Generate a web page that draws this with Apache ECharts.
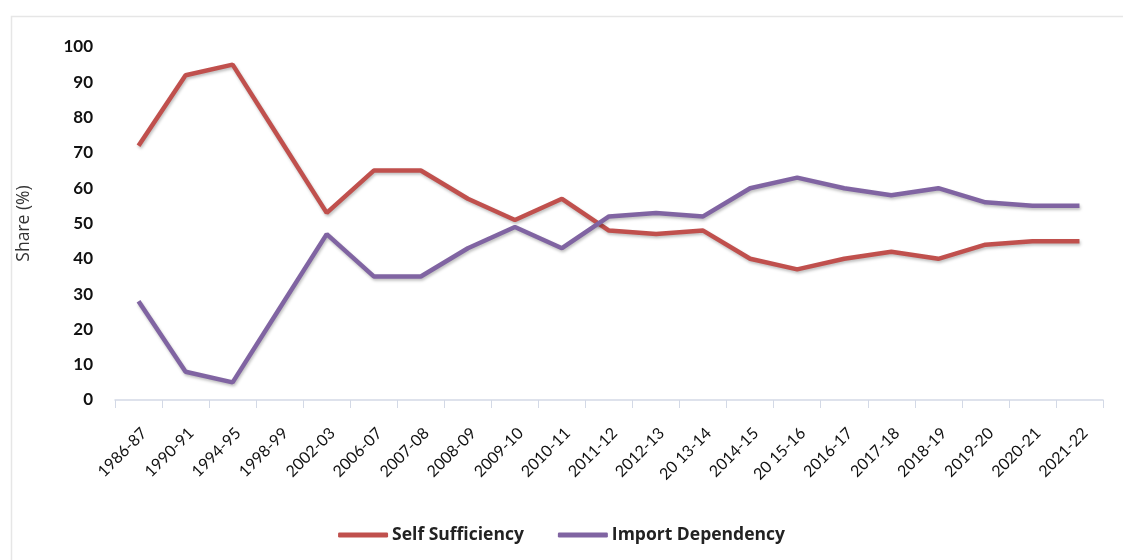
<!DOCTYPE html>
<html>
<head>
<meta charset="utf-8">
<script src="https://cdn.jsdelivr.net/npm/echarts@6/dist/echarts.min.js"></script>
<style>html,body{margin:0;padding:0;background:#fff;}#c{width:1123px;height:560px;}</style>
</head>
<body>
<div id="c"></div>
<script>
const categories = ['1986-87','1990-91','1994-95','1998-99','2002-03','2006-07','2007-08','2008-09','2009-10','2010-11','2011-12','2012-13','20 13-14','2014-15','20 15-16','2016-17','2017-18','2018-19','2019-20','2020-21','2021-22'];
const selfSufficiency = [72, 92, 95, 74, 53, 65, 65, 57, 51, 57, 48, 47, 48, 40, 37, 40, 42, 40, 44, 45, 45];
const importDependency = [28, 8, 5, 26, 47, 35, 35, 43, 49, 43, 52, 53, 52, 60, 63, 60, 58, 60, 56, 55, 55];
const yTicks = [0, 10, 20, 30, 40, 50, 60, 70, 80, 90, 100];

const chart = echarts.init(document.getElementById('c'), null, {renderer: 'canvas'});
const lineStyle = (c) => ({color: c, width: 4.5, shadowColor: 'rgba(0,0,0,0.25)', shadowBlur: 3, shadowOffsetX: 1, shadowOffsetY: 2});
chart.setOption({
  animation: false,
  backgroundColor: '#fff',
  textStyle: {fontFamily: 'Lato, "Open Sans", sans-serif'},
  graphic: [{
    type: 'rect', left: 9, top: 14, shape: {width: 1120, height: 560},
    style: {fill: 'none', stroke: '#e6e6e6', lineWidth: 1.5}, silent: true
  }],
  grid: {left: 115, right: 20, top: 47, bottom: 160, containLabel: false},
  legend: {
    top: 521, left: 'center',
    itemWidth: 50, itemHeight: 5, itemGap: 34,
    icon: 'roundRect',
    textStyle: {fontSize: 17.5, fontWeight: 'bold', color: '#222', fontFamily: '"Open Sans", sans-serif', padding: [0, 0, 0, -1]},
    data: ['Self Sufficiency', 'Import Dependency']
  },
  xAxis: {
    type: 'category', data: categories, boundaryGap: true,
    axisLine: {lineStyle: {color: '#d3d9e6', width: 1.5}},
    axisTick: {show: true, length: 8, lineStyle: {color: '#d3d9e6'}},
    axisLabel: {rotate: 45, fontSize: 16, color: '#111', margin: 25, interval: 0, verticalAlign: 'top'}
  },
  yAxis: {
    type: 'value', min: yTicks[0], max: yTicks[yTicks.length - 1], interval: 10,
    name: 'Share (%)', nameLocation: 'middle', nameGap: 82,
    nameTextStyle: {fontSize: 17.5, color: '#333', fontFamily: '"Open Sans", sans-serif'},
    axisLine: {show: false}, axisTick: {show: false}, splitLine: {show: false},
    axisLabel: {fontSize: 17, fontWeight: 'bold', color: '#111', margin: 22}
  },
  series: [
    {name: 'Self Sufficiency', type: 'line', data: selfSufficiency, symbol: 'none', color: '#c0504d', lineStyle: lineStyle('#c0504d')},
    {name: 'Import Dependency', type: 'line', data: importDependency, symbol: 'none', color: '#8064a2', lineStyle: lineStyle('#8064a2')}
  ]
});
</script>
</body>
</html>
